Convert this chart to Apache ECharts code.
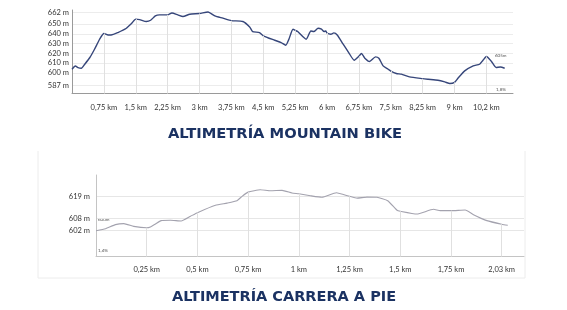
<!DOCTYPE html>
<html>
<head>
<meta charset="utf-8">
<script src="https://cdn.jsdelivr.net/npm/echarts@6/dist/echarts.min.js"></script>
<style>
html,body{margin:0;padding:0;background:#fff;}
#chart{width:567px;height:310px;}
</style>
</head>
<body>
<div id="chart"></div>
<script>
// ---- Mountain bike profile ----
const mtbKm = [0,0.08,0.14,0.22,0.3,0.42,0.53,0.65,0.75,0.85,
  0.92,1.08,1.28,1.4,1.5,1.59,1.75,1.85,1.96,2.06,
  2.25,2.35,2.49,2.61,2.77,3.0,3.2,3.36,3.55,3.75,
  4.02,4.18,4.25,4.41,4.5,4.77,4.92,5.03,5.1,5.2,
  5.25,5.31,5.51,5.62,5.69,5.79,5.87,5.93,5.97,6.0,
  6.09,6.16,6.24,6.38,6.51,6.64,6.75,6.81,6.89,7.0,
  7.14,7.22,7.32,7.44,7.5,7.63,7.75,7.94,8.25,8.38,
  8.61,8.77,8.89,9.0,9.08,9.24,9.44,9.59,9.67,9.75,
  9.86,9.98,10.08,10.18];
const mtbAlt = [603.7,607.0,605.4,604.7,608.8,615.7,624.2,634.4,640.3,638.8,
  638.8,641.3,645.7,650.5,655.0,654.6,652.6,653.9,658.3,659.4,
  659.4,661.4,659.4,657.7,660.1,660.8,662.4,658.3,656.0,653.5,
  652.6,647.0,642.3,641.3,638.0,633.4,631.0,628.3,634.0,644.7,
  643.5,642.3,634.4,642.9,642.3,645.7,644.7,642.3,642.9,640.8,
  639.6,640.9,638.8,629.3,620.8,612.9,617.0,619.8,615.0,611.6,
  616.3,615.0,607.1,603.7,601.8,599.3,598.6,595.8,594.0,593.4,
  592.4,590.7,589.0,590.2,594.4,602.0,607.1,608.8,612.9,616.7,
  612.2,605.4,606.0,604.7];
const mtbTickKm = [0.75,1.5,2.25,3,3.75,4.5,5.25,6,6.75,7.5,8.25,9,9.75];
const mtbTickLabels = ['0,75 km','1,5 km','2,25 km','3 km','3,75 km','4,5 km','5,25 km','6 km','6,75 km','7,5 km','8,25 km','9 km','10,2 km'];
const mtbYTicks = [587,600,610,620,630,640,650,662];

// ---- Running profile ----
const runKm = [0,0.047,0.096,0.137,0.186,0.25,0.268,0.293,0.321,0.367,
  0.42,0.466,0.5,0.589,0.646,0.695,0.72,0.75,0.81,0.86,
  0.917,0.966,1.0,1.057,1.114,1.185,1.25,1.287,1.336,1.385,
  1.438,1.484,1.5,1.582,1.664,1.697,1.75,1.82,1.861,1.927,
  2.0,2.03];
const runAlt = [601.8,602.8,604.9,605.4,604.0,603.3,603.7,605.2,606.9,607.1,
  606.7,609.1,610.9,614.6,615.7,616.9,619.1,621.2,622.4,621.9,
  622.1,620.8,620.4,619.4,618.6,620.9,619.1,618.2,618.7,618.6,
  616.9,612.1,611.6,610.2,612.6,611.9,611.9,612.2,609.9,606.9,
  605.1,604.6];
const runTickKm = [0.25,0.5,0.75,1,1.25,1.5,1.75,2];
const runTickLabels = ['0,25 km','0,5 km','0,75 km','1 km','1,25 km','1,5 km','1,75 km','2,03 km'];
const runYTicks = [602,608,619];

const titles = ['ALTIMETRÍA MOUNTAIN BIKE','ALTIMETRÍA CARRERA A PIE'];
const notes = {mtbEnd:'605m', mtbGrade:'1,8%', runStart:'600m', runGrade:'1,4%'};

const FONT = 'Lato, "Open Sans", sans-serif';
const TITLE_FONT = '"DejaVu Sans", sans-serif';
const MTB_Y = [578.8, 664.4];
const RUN_Y = [588.9, 629.8];

function pairs(xs, ys){ return xs.map((x,i)=>[x, ys[i]]); }
function stems(ticks, xs, ys, ymin){
  return ticks.map(t => {
    const i = xs.findIndex(x => Math.abs(x - t) < 1e-9);
    return [{coord:[t, ymin]}, {coord:[t, ys[i]]}];
  });
}
function labelFor(ticks, labels){
  return v => { const i = ticks.findIndex(t => Math.abs(t - v) < 1e-6); return i >= 0 ? labels[i] : ''; };
}

const chart = echarts.init(document.getElementById('chart'));
chart.setOption({
  animation: false,
  backgroundColor: '#fff',
  grid: [
    {left: 72, right: 54, top: 10, bottom: 216.5},
    {left: 96, right: 43, top: 175, bottom: 53.5}
  ],
  xAxis: [
    {gridIndex: 0, type: 'value', min: 0, max: 10.376,
      axisLine: {show: true, lineStyle: {color: '#9a9a9a', width: 1}},
      axisTick: {show: false, customValues: mtbTickKm},
      splitLine: {show: false},
      axisLabel: {customValues: mtbTickKm, formatter: labelFor(mtbTickKm, mtbTickLabels),
        fontSize: 7.5, color: '#333', fontFamily: FONT, margin: 10}},
    {gridIndex: 1, type: 'value', min: 0, max: 2.11,
      axisLine: {show: true, lineStyle: {color: '#c4c4c4', width: 1}},
      axisTick: {show: false, customValues: runTickKm},
      splitLine: {show: false},
      axisLabel: {customValues: runTickKm, formatter: labelFor(runTickKm, runTickLabels),
        fontSize: 7.5, color: '#333', fontFamily: FONT, margin: 9}}
  ],
  yAxis: [
    {gridIndex: 0, type: 'value', min: MTB_Y[0], max: MTB_Y[1],
      axisLine: {show: true, lineStyle: {color: '#9a9a9a', width: 1}},
      axisTick: {show: false, customValues: mtbYTicks},
      splitLine: {show: true, lineStyle: {color: '#ececec', width: 1}},
      axisLabel: {customValues: mtbYTicks, formatter: v => v + ' m',
        fontSize: 7.5, color: '#333', fontFamily: FONT, margin: 3}},
    {gridIndex: 1, type: 'value', min: RUN_Y[0], max: RUN_Y[1],
      axisLine: {show: true, lineStyle: {color: '#c4c4c4', width: 1}},
      axisTick: {show: false, customValues: runYTicks},
      splitLine: {show: true, lineStyle: {color: '#e6e6e6', width: 1}},
      axisLabel: {customValues: runYTicks, formatter: v => v + ' m',
        fontSize: 7.5, color: '#333', fontFamily: FONT, margin: 6}}
  ],
  series: [
    {type: 'line', xAxisIndex: 0, yAxisIndex: 0, data: [], z: 1,
      markLine: {silent: true, symbol: ['none','none'], label: {show: false},
        lineStyle: {color: '#e0e0e0', width: 1, type: 'solid'},
        data: stems(mtbTickKm, mtbKm, mtbAlt, MTB_Y[0])}},
    {type: 'line', xAxisIndex: 0, yAxisIndex: 0, data: pairs(mtbKm, mtbAlt), z: 3,
      showSymbol: false, smooth: 0.2, lineStyle: {color: '#36467a', width: 1.4}},
    {type: 'line', xAxisIndex: 1, yAxisIndex: 1, data: [], z: 1,
      markLine: {silent: true, symbol: ['none','none'], label: {show: false},
        lineStyle: {color: '#e0e0e0', width: 1, type: 'solid'},
        data: stems(runTickKm, runKm, runAlt, RUN_Y[0])}},
    {type: 'line', xAxisIndex: 1, yAxisIndex: 1, data: pairs(runKm, runAlt), z: 3,
      showSymbol: false, smooth: 0.15, lineStyle: {color: '#a3a2ae', width: 1.1}}
  ],
  graphic: [
    {type: 'polyline', silent: true, z: 0,
      shape: {points: [[38,151],[38,278],[525,278],[525,151]]},
      style: {stroke: '#ececec', lineWidth: 1, fill: null}},
    {type: 'text', x: 285, y: 134, silent: true,
      style: {text: titles[0], align: 'center', verticalAlign: 'middle',
        font: 'bold 14.7px ' + TITLE_FONT, fill: '#1b3262'}},
    {type: 'text', x: 284, y: 297, silent: true,
      style: {text: titles[1], align: 'center', verticalAlign: 'middle',
        font: 'bold 14.5px ' + TITLE_FONT, fill: '#1b3262'}},
    {type: 'text', x: 495, y: 56, silent: true,
      style: {text: notes.mtbEnd, verticalAlign: 'middle', font: '4.5px ' + FONT, fill: '#555'}},
    {type: 'text', x: 496, y: 90, silent: true,
      style: {text: notes.mtbGrade, verticalAlign: 'middle', font: '4.5px ' + FONT, fill: '#555'}},
    {type: 'text', x: 98, y: 220, silent: true,
      style: {text: notes.runStart, verticalAlign: 'middle', font: '4.5px ' + FONT, fill: '#555'}},
    {type: 'text', x: 98, y: 251, silent: true,
      style: {text: notes.runGrade, verticalAlign: 'middle', font: '4.5px ' + FONT, fill: '#555'}}
  ]
});
</script>
</body>
</html>
